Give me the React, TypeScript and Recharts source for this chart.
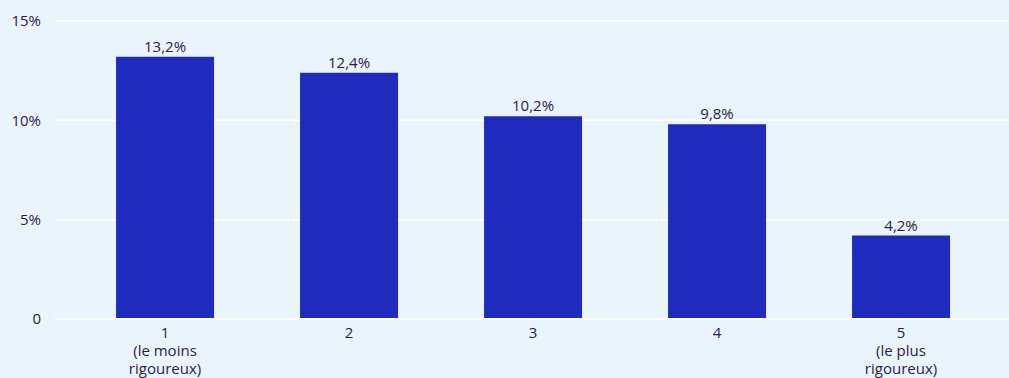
import { BarChart, Bar, XAxis, YAxis, CartesianGrid, LabelList } from 'recharts';

const levels = ['1', '2', '3', '4', '5'];
const subLabels = [['(le moins', 'rigoureux)'], [], [], [], ['(le plus', 'rigoureux)']];
const shares = [13.2, 12.4, 10.2, 9.8, 4.2];
const yTicks = [0, 5, 10, 15];

const data = levels.map((level, i) => ({ level, share: shares[i] }));

const textColor = '#2d1a4f';
const font = "'Open Sans', sans-serif";

const LevelTick = (props: any) => {
    const { x, y, payload, index } = props;
    const lines = [payload.value, ...(subLabels[index] || [])];
    return (
        <text x={x} y={y} textAnchor="middle" fill={textColor} fontSize={15} fontFamily={font}>
            {lines.map((line: string, i: number) => (
                <tspan key={i} x={x} dy={i === 0 ? 11 : 18}>{line}</tspan>
            ))}
        </text>
    );
};

export default function App() {
    return (
        <div style={{ position: 'absolute', left: 0, top: 0, width: 1009, height: 378, background: '#eaf4fd' }}>
            <BarChart width={1009} height={378} data={data} barCategoryGap="23.4%"
                margin={{ top: 21, right: 0, bottom: 0, left: 0 }}>
                <CartesianGrid vertical={false} stroke="#ffffff" strokeWidth={1.5} />
                <XAxis dataKey="level" height={59} interval={0} padding={{ left: 18, right: 16 }}
                    axisLine={{ stroke: '#ffffff', strokeWidth: 2 }} tickLine={false} tick={<LevelTick />} />
                <YAxis domain={[0, 15]} ticks={yTicks} width={55} axisLine={false} tickLine={false}
                    tickSize={0} tickMargin={14}
                    tickFormatter={(v: number) => (v === 0 ? '0' : v + '%')}
                    tick={{ fill: textColor, fontSize: 15, fontFamily: font }} />
                <Bar dataKey="share" fill="#1e2bbc" isAnimationActive={false}>
                    <LabelList dataKey="share" position="top" offset={5}
                        formatter={(v: any) => String(v).replace('.', ',') + '%'}
                        style={{ fill: textColor, fontSize: 15, fontFamily: font }} />
                </Bar>
            </BarChart>
        </div>
    );
}
